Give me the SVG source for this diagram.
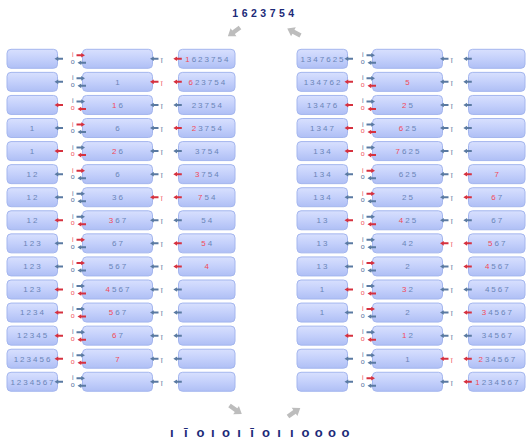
<svg xmlns="http://www.w3.org/2000/svg" xmlns:xlink="http://www.w3.org/1999/xlink" width="529" height="447" viewBox="0 0 529 447">
  <defs>
    <linearGradient id="boxFill" x1="0" y1="0" x2="0" y2="1">
      <stop offset="0" stop-color="#d8e0fe"/>
      <stop offset="0.5" stop-color="#c4d0fb"/>
      <stop offset="1" stop-color="#afbff5"/>
    </linearGradient>
    <!-- three box sizes: output, deque, input -->
    <rect id="bA" x="7" y="-9.5" width="50.5" height="19" rx="4"/>
    <rect id="bB" x="82.5" y="-9.5" width="70" height="19" rx="4"/>
    <rect id="bC" x="178.5" y="-9.5" width="56.5" height="19" rx="4"/>
    <!-- small arrows, tip at origin -->
    <path id="al" d="M0,0 L3.8,-2.3 L3.8,-1 L8.5,-1 L8.5,1 L3.8,1 L3.8,2.3 Z"/>
    <path id="ar" d="M0,0 L-3.8,-2.3 L-3.8,-1 L-8.5,-1 L-8.5,1 L-3.8,1 L-3.8,2.3 Z"/>
    <!-- large grey arrow, tail at origin, pointing along +x -->
    <path id="big" d="M0,-2.2 L8,-2.2 L8,-5 L15,0 L8,5 L8,2.2 L0,2.2 Z"/>
  </defs>
  <style>
    .bx { fill: url(#boxFill); stroke: #a4b6ee; stroke-width: 1; }
    .t { font-family: "Liberation Sans", Arial, sans-serif; font-size: 8px; letter-spacing: 2px; fill: #6a85b8; text-anchor: middle; }
    .r { fill: #f24a58; }
    .lb { font-family: "Liberation Sans", Arial, sans-serif; font-size: 7px; fill: #4f6d9c; text-anchor: middle; }
    .lr { font-family: "Liberation Sans", Arial, sans-serif; font-size: 7px; fill: #f0505a; text-anchor: middle; }
    .ab { fill: #5a7aa2; }
    .arr { fill: #d6313f; }
    .grey { fill: #bdbdbd; }
    .head { font-family: "Liberation Sans", Arial, sans-serif; font-weight: bold; fill: #1c2a78; }
  </style>

  <rect width="529" height="447" fill="#ffffff"/>

  <text id="title" class="head" x="265" y="17.3" font-size="10.5" letter-spacing="3.5" text-anchor="middle">1623754</text>
  <text id="ops" class="head" font-size="13" y="436.7" text-anchor="middle" x="171.7 185.7 200.5 212.7 226 239 252 266 279 291.7 305.5 318.8 332 345.5">ıīoıoıīoııoooo</text>

  <!-- boxes: left column (translate 0) and right column (translate 290) -->
  <g id="nodes">
    <g transform="translate(0,58.8)">
      <g id="L1a"><use href="#bA" class="bx"/></g>
      <g id="L1b"><use href="#bB" class="bx"/></g>
      <g id="L1c"><use href="#bC" class="bx"/><text class="t" x="207.8" y="2.8"><tspan class="r">1</tspan>623754</text></g>
    </g>
    <g transform="translate(0,81.87)">
      <g id="L2a"><use href="#bA" class="bx"/></g>
      <g id="L2b"><use href="#bB" class="bx"/><text class="t" x="118.5" y="2.8">1</text></g>
      <g id="L2c"><use href="#bC" class="bx"/><text class="t" x="207.8" y="2.8"><tspan class="r">6</tspan>23754</text></g>
    </g>
    <g transform="translate(0,104.94)">
      <g id="L3a"><use href="#bA" class="bx"/></g>
      <g id="L3b"><use href="#bB" class="bx"/><text class="t" x="118.5" y="2.8"><tspan class="r">1</tspan>6</text></g>
      <g id="L3c"><use href="#bC" class="bx"/><text class="t" x="207.8" y="2.8">23754</text></g>
    </g>
    <g transform="translate(0,128.01)">
      <g id="L4a"><use href="#bA" class="bx"/><text class="t" x="33" y="2.8">1</text></g>
      <g id="L4b"><use href="#bB" class="bx"/><text class="t" x="118.5" y="2.8">6</text></g>
      <g id="L4c"><use href="#bC" class="bx"/><text class="t" x="207.8" y="2.8"><tspan class="r">2</tspan>3754</text></g>
    </g>
    <g transform="translate(0,151.08)">
      <g id="L5a"><use href="#bA" class="bx"/><text class="t" x="33" y="2.8">1</text></g>
      <g id="L5b"><use href="#bB" class="bx"/><text class="t" x="118.5" y="2.8"><tspan class="r">2</tspan>6</text></g>
      <g id="L5c"><use href="#bC" class="bx"/><text class="t" x="207.8" y="2.8">3754</text></g>
    </g>
    <g transform="translate(0,174.15)">
      <g id="L6a"><use href="#bA" class="bx"/><text class="t" x="33" y="2.8">12</text></g>
      <g id="L6b"><use href="#bB" class="bx"/><text class="t" x="118.5" y="2.8">6</text></g>
      <g id="L6c"><use href="#bC" class="bx"/><text class="t" x="207.8" y="2.8"><tspan class="r">3</tspan>754</text></g>
    </g>
    <g transform="translate(0,197.22)">
      <g id="L7a"><use href="#bA" class="bx"/><text class="t" x="33" y="2.8">12</text></g>
      <g id="L7b"><use href="#bB" class="bx"/><text class="t" x="118.5" y="2.8">36</text></g>
      <g id="L7c"><use href="#bC" class="bx"/><text class="t" x="207.8" y="2.8"><tspan class="r">7</tspan>54</text></g>
    </g>
    <g transform="translate(0,220.29)">
      <g id="L8a"><use href="#bA" class="bx"/><text class="t" x="33" y="2.8">12</text></g>
      <g id="L8b"><use href="#bB" class="bx"/><text class="t" x="118.5" y="2.8"><tspan class="r">3</tspan>67</text></g>
      <g id="L8c"><use href="#bC" class="bx"/><text class="t" x="207.8" y="2.8">54</text></g>
    </g>
    <g transform="translate(0,243.36)">
      <g id="L9a"><use href="#bA" class="bx"/><text class="t" x="33" y="2.8">123</text></g>
      <g id="L9b"><use href="#bB" class="bx"/><text class="t" x="118.5" y="2.8">67</text></g>
      <g id="L9c"><use href="#bC" class="bx"/><text class="t" x="207.8" y="2.8"><tspan class="r">5</tspan>4</text></g>
    </g>
    <g transform="translate(0,266.43)">
      <g id="L10a"><use href="#bA" class="bx"/><text class="t" x="33" y="2.8">123</text></g>
      <g id="L10b"><use href="#bB" class="bx"/><text class="t" x="118.5" y="2.8">567</text></g>
      <g id="L10c"><use href="#bC" class="bx"/><text class="t" x="207.8" y="2.8"><tspan class="r">4</tspan></text></g>
    </g>
    <g transform="translate(0,289.5)">
      <g id="L11a"><use href="#bA" class="bx"/><text class="t" x="33" y="2.8">123</text></g>
      <g id="L11b"><use href="#bB" class="bx"/><text class="t" x="118.5" y="2.8"><tspan class="r">4</tspan>567</text></g>
      <g id="L11c"><use href="#bC" class="bx"/></g>
    </g>
    <g transform="translate(0,312.57)">
      <g id="L12a"><use href="#bA" class="bx"/><text class="t" x="33" y="2.8">1234</text></g>
      <g id="L12b"><use href="#bB" class="bx"/><text class="t" x="118.5" y="2.8"><tspan class="r">5</tspan>67</text></g>
      <g id="L12c"><use href="#bC" class="bx"/></g>
    </g>
    <g transform="translate(0,335.64)">
      <g id="L13a"><use href="#bA" class="bx"/><text class="t" x="33" y="2.8">12345</text></g>
      <g id="L13b"><use href="#bB" class="bx"/><text class="t" x="118.5" y="2.8"><tspan class="r">6</tspan>7</text></g>
      <g id="L13c"><use href="#bC" class="bx"/></g>
    </g>
    <g transform="translate(0,358.71)">
      <g id="L14a"><use href="#bA" class="bx"/><text class="t" x="33" y="2.8">123456</text></g>
      <g id="L14b"><use href="#bB" class="bx"/><text class="t" x="118.5" y="2.8"><tspan class="r">7</tspan></text></g>
      <g id="L14c"><use href="#bC" class="bx"/></g>
    </g>
    <g transform="translate(0,381.78)">
      <g id="L15a"><use href="#bA" class="bx"/><text class="t" x="33" y="2.8">1234567</text></g>
      <g id="L15b"><use href="#bB" class="bx"/></g>
      <g id="L15c"><use href="#bC" class="bx"/></g>
    </g>

    <g transform="translate(290,58.8)">
      <g id="R1a"><use href="#bA" class="bx"/><text class="t" x="33" y="2.8">1347625</text></g>
      <g id="R1b"><use href="#bB" class="bx"/></g>
      <g id="R1c"><use href="#bC" class="bx"/></g>
    </g>
    <g transform="translate(290,81.87)">
      <g id="R2a"><use href="#bA" class="bx"/><text class="t" x="33" y="2.8">134762</text></g>
      <g id="R2b"><use href="#bB" class="bx"/><text class="t" x="118.5" y="2.8"><tspan class="r">5</tspan></text></g>
      <g id="R2c"><use href="#bC" class="bx"/></g>
    </g>
    <g transform="translate(290,104.94)">
      <g id="R3a"><use href="#bA" class="bx"/><text class="t" x="33" y="2.8">13476</text></g>
      <g id="R3b"><use href="#bB" class="bx"/><text class="t" x="118.5" y="2.8"><tspan class="r">2</tspan>5</text></g>
      <g id="R3c"><use href="#bC" class="bx"/></g>
    </g>
    <g transform="translate(290,128.01)">
      <g id="R4a"><use href="#bA" class="bx"/><text class="t" x="33" y="2.8">1347</text></g>
      <g id="R4b"><use href="#bB" class="bx"/><text class="t" x="118.5" y="2.8"><tspan class="r">6</tspan>25</text></g>
      <g id="R4c"><use href="#bC" class="bx"/></g>
    </g>
    <g transform="translate(290,151.08)">
      <g id="R5a"><use href="#bA" class="bx"/><text class="t" x="33" y="2.8">134</text></g>
      <g id="R5b"><use href="#bB" class="bx"/><text class="t" x="118.5" y="2.8"><tspan class="r">7</tspan>625</text></g>
      <g id="R5c"><use href="#bC" class="bx"/></g>
    </g>
    <g transform="translate(290,174.15)">
      <g id="R6a"><use href="#bA" class="bx"/><text class="t" x="33" y="2.8">134</text></g>
      <g id="R6b"><use href="#bB" class="bx"/><text class="t" x="118.5" y="2.8">625</text></g>
      <g id="R6c"><use href="#bC" class="bx"/><text class="t" x="207.8" y="2.8"><tspan class="r">7</tspan></text></g>
    </g>
    <g transform="translate(290,197.22)">
      <g id="R7a"><use href="#bA" class="bx"/><text class="t" x="33" y="2.8">134</text></g>
      <g id="R7b"><use href="#bB" class="bx"/><text class="t" x="118.5" y="2.8">25</text></g>
      <g id="R7c"><use href="#bC" class="bx"/><text class="t" x="207.8" y="2.8"><tspan class="r">6</tspan>7</text></g>
    </g>
    <g transform="translate(290,220.29)">
      <g id="R8a"><use href="#bA" class="bx"/><text class="t" x="33" y="2.8">13</text></g>
      <g id="R8b"><use href="#bB" class="bx"/><text class="t" x="118.5" y="2.8"><tspan class="r">4</tspan>25</text></g>
      <g id="R8c"><use href="#bC" class="bx"/><text class="t" x="207.8" y="2.8">67</text></g>
    </g>
    <g transform="translate(290,243.36)">
      <g id="R9a"><use href="#bA" class="bx"/><text class="t" x="33" y="2.8">13</text></g>
      <g id="R9b"><use href="#bB" class="bx"/><text class="t" x="118.5" y="2.8">42</text></g>
      <g id="R9c"><use href="#bC" class="bx"/><text class="t" x="207.8" y="2.8"><tspan class="r">5</tspan>67</text></g>
    </g>
    <g transform="translate(290,266.43)">
      <g id="R10a"><use href="#bA" class="bx"/><text class="t" x="33" y="2.8">13</text></g>
      <g id="R10b"><use href="#bB" class="bx"/><text class="t" x="118.5" y="2.8">2</text></g>
      <g id="R10c"><use href="#bC" class="bx"/><text class="t" x="207.8" y="2.8"><tspan class="r">4</tspan>567</text></g>
    </g>
    <g transform="translate(290,289.5)">
      <g id="R11a"><use href="#bA" class="bx"/><text class="t" x="33" y="2.8">1</text></g>
      <g id="R11b"><use href="#bB" class="bx"/><text class="t" x="118.5" y="2.8"><tspan class="r">3</tspan>2</text></g>
      <g id="R11c"><use href="#bC" class="bx"/><text class="t" x="207.8" y="2.8">4567</text></g>
    </g>
    <g transform="translate(290,312.57)">
      <g id="R12a"><use href="#bA" class="bx"/><text class="t" x="33" y="2.8">1</text></g>
      <g id="R12b"><use href="#bB" class="bx"/><text class="t" x="118.5" y="2.8">2</text></g>
      <g id="R12c"><use href="#bC" class="bx"/><text class="t" x="207.8" y="2.8"><tspan class="r">3</tspan>4567</text></g>
    </g>
    <g transform="translate(290,335.64)">
      <g id="R13a"><use href="#bA" class="bx"/></g>
      <g id="R13b"><use href="#bB" class="bx"/><text class="t" x="118.5" y="2.8"><tspan class="r">1</tspan>2</text></g>
      <g id="R13c"><use href="#bC" class="bx"/><text class="t" x="207.8" y="2.8">34567</text></g>
    </g>
    <g transform="translate(290,358.71)">
      <g id="R14a"><use href="#bA" class="bx"/></g>
      <g id="R14b"><use href="#bB" class="bx"/><text class="t" x="118.5" y="2.8">1</text></g>
      <g id="R14c"><use href="#bC" class="bx"/><text class="t" x="207.8" y="2.8"><tspan class="r">2</tspan>34567</text></g>
    </g>
    <g transform="translate(290,381.78)">
      <g id="R15a"><use href="#bA" class="bx"/></g>
      <g id="R15b"><use href="#bB" class="bx"/></g>
      <g id="R15c"><use href="#bC" class="bx"/><text class="t" x="207.8" y="2.8"><tspan class="r">1</tspan>234567</text></g>
    </g>
  </g>

  <!-- arrows and i / o / ī port labels; red marks the step taken next -->
  <g id="connectors">
    <g id="flow">
      <use href="#big" class="grey" transform="translate(240,27.5) rotate(144)"/>
      <use href="#big" class="grey" transform="translate(300.5,35.5) rotate(-152)"/>
      <use href="#big" class="grey" transform="translate(229.5,405.5) rotate(35)"/>
      <use href="#big" class="grey" transform="translate(288,416.5) rotate(-35)"/>
    </g>

    <!-- left column -->
    <g transform="translate(0,58.8)"><use href="#al" class="ab" x="54.5"/><text class="lr" x="72.7" y="-1.5">i</text><use href="#ar" class="arr" x="85" y="-3.5"/><text class="lb" x="72.7" y="5.2">o</text><use href="#al" class="ab" x="77.5" y="4"/><use href="#al" class="ab" x="150"/><text class="lb" x="161.7" y="3.9">ī</text><use href="#al" class="arr" x="173.3"/></g>
    <g transform="translate(0,81.87)"><use href="#al" class="ab" x="54.5"/><text class="lb" x="72.7" y="-1.5">i</text><use href="#ar" class="ab" x="85" y="-3.5"/><text class="lb" x="72.7" y="5.2">o</text><use href="#al" class="ab" x="77.5" y="4"/><use href="#al" class="arr" x="150"/><text class="lr" x="161.7" y="3.9">ī</text><use href="#al" class="arr" x="173.3"/></g>
    <g transform="translate(0,104.94)"><use href="#al" class="arr" x="54.5"/><text class="lb" x="72.7" y="-1.5">i</text><use href="#ar" class="ab" x="85" y="-3.5"/><text class="lr" x="72.7" y="5.2">o</text><use href="#al" class="arr" x="77.5" y="4"/><use href="#al" class="ab" x="150"/><text class="lb" x="161.7" y="3.9">ī</text><use href="#al" class="ab" x="173.3"/></g>
    <g transform="translate(0,128.01)"><use href="#al" class="ab" x="54.5"/><text class="lr" x="72.7" y="-1.5">i</text><use href="#ar" class="arr" x="85" y="-3.5"/><text class="lb" x="72.7" y="5.2">o</text><use href="#al" class="ab" x="77.5" y="4"/><use href="#al" class="ab" x="150"/><text class="lb" x="161.7" y="3.9">ī</text><use href="#al" class="arr" x="173.3"/></g>
    <g transform="translate(0,151.08)"><use href="#al" class="arr" x="54.5"/><text class="lb" x="72.7" y="-1.5">i</text><use href="#ar" class="ab" x="85" y="-3.5"/><text class="lr" x="72.7" y="5.2">o</text><use href="#al" class="arr" x="77.5" y="4"/><use href="#al" class="ab" x="150"/><text class="lb" x="161.7" y="3.9">ī</text><use href="#al" class="ab" x="173.3"/></g>
    <g transform="translate(0,174.15)"><use href="#al" class="ab" x="54.5"/><text class="lr" x="72.7" y="-1.5">i</text><use href="#ar" class="arr" x="85" y="-3.5"/><text class="lb" x="72.7" y="5.2">o</text><use href="#al" class="ab" x="77.5" y="4"/><use href="#al" class="ab" x="150"/><text class="lb" x="161.7" y="3.9">ī</text><use href="#al" class="arr" x="173.3"/></g>
    <g transform="translate(0,197.22)"><use href="#al" class="ab" x="54.5"/><text class="lb" x="72.7" y="-1.5">i</text><use href="#ar" class="ab" x="85" y="-3.5"/><text class="lb" x="72.7" y="5.2">o</text><use href="#al" class="ab" x="77.5" y="4"/><use href="#al" class="arr" x="150"/><text class="lr" x="161.7" y="3.9">ī</text><use href="#al" class="arr" x="173.3"/></g>
    <g transform="translate(0,220.29)"><use href="#al" class="arr" x="54.5"/><text class="lb" x="72.7" y="-1.5">i</text><use href="#ar" class="ab" x="85" y="-3.5"/><text class="lr" x="72.7" y="5.2">o</text><use href="#al" class="arr" x="77.5" y="4"/><use href="#al" class="ab" x="150"/><text class="lb" x="161.7" y="3.9">ī</text><use href="#al" class="ab" x="173.3"/></g>
    <g transform="translate(0,243.36)"><use href="#al" class="ab" x="54.5"/><text class="lr" x="72.7" y="-1.5">i</text><use href="#ar" class="arr" x="85" y="-3.5"/><text class="lb" x="72.7" y="5.2">o</text><use href="#al" class="ab" x="77.5" y="4"/><use href="#al" class="ab" x="150"/><text class="lb" x="161.7" y="3.9">ī</text><use href="#al" class="arr" x="173.3"/></g>
    <g transform="translate(0,266.43)"><use href="#al" class="ab" x="54.5"/><text class="lr" x="72.7" y="-1.5">i</text><use href="#ar" class="arr" x="85" y="-3.5"/><text class="lb" x="72.7" y="5.2">o</text><use href="#al" class="ab" x="77.5" y="4"/><use href="#al" class="ab" x="150"/><text class="lb" x="161.7" y="3.9">ī</text><use href="#al" class="arr" x="173.3"/></g>
    <g transform="translate(0,289.5)"><use href="#al" class="arr" x="54.5"/><text class="lb" x="72.7" y="-1.5">i</text><use href="#ar" class="ab" x="85" y="-3.5"/><text class="lr" x="72.7" y="5.2">o</text><use href="#al" class="arr" x="77.5" y="4"/><use href="#al" class="ab" x="150"/><text class="lb" x="161.7" y="3.9">ī</text><use href="#al" class="ab" x="173.3"/></g>
    <g transform="translate(0,312.57)"><use href="#al" class="arr" x="54.5"/><text class="lb" x="72.7" y="-1.5">i</text><use href="#ar" class="ab" x="85" y="-3.5"/><text class="lr" x="72.7" y="5.2">o</text><use href="#al" class="arr" x="77.5" y="4"/><use href="#al" class="ab" x="150"/><text class="lb" x="161.7" y="3.9">ī</text><use href="#al" class="ab" x="173.3"/></g>
    <g transform="translate(0,335.64)"><use href="#al" class="arr" x="54.5"/><text class="lb" x="72.7" y="-1.5">i</text><use href="#ar" class="ab" x="85" y="-3.5"/><text class="lr" x="72.7" y="5.2">o</text><use href="#al" class="arr" x="77.5" y="4"/><use href="#al" class="ab" x="150"/><text class="lb" x="161.7" y="3.9">ī</text><use href="#al" class="ab" x="173.3"/></g>
    <g transform="translate(0,358.71)"><use href="#al" class="arr" x="54.5"/><text class="lb" x="72.7" y="-1.5">i</text><use href="#ar" class="ab" x="85" y="-3.5"/><text class="lr" x="72.7" y="5.2">o</text><use href="#al" class="arr" x="77.5" y="4"/><use href="#al" class="ab" x="150"/><text class="lb" x="161.7" y="3.9">ī</text><use href="#al" class="ab" x="173.3"/></g>
    <g transform="translate(0,381.78)"><use href="#al" class="ab" x="54.5"/><text class="lb" x="72.7" y="-1.5">i</text><use href="#ar" class="ab" x="85" y="-3.5"/><text class="lb" x="72.7" y="5.2">o</text><use href="#al" class="ab" x="77.5" y="4"/><use href="#al" class="ab" x="150"/><text class="lb" x="161.7" y="3.9">ī</text><use href="#al" class="ab" x="173.3"/></g>

    <!-- right column -->
    <g transform="translate(290,58.8)"><use href="#al" class="ab" x="54.5"/><text class="lb" x="72.7" y="-1.5">i</text><use href="#ar" class="ab" x="85" y="-3.5"/><text class="lb" x="72.7" y="5.2">o</text><use href="#al" class="ab" x="77.5" y="4"/><use href="#al" class="ab" x="150"/><text class="lb" x="161.7" y="3.9">ī</text><use href="#al" class="ab" x="173.3"/></g>
    <g transform="translate(290,81.87)"><use href="#al" class="arr" x="54.5"/><text class="lb" x="72.7" y="-1.5">i</text><use href="#ar" class="ab" x="85" y="-3.5"/><text class="lr" x="72.7" y="5.2">o</text><use href="#al" class="arr" x="77.5" y="4"/><use href="#al" class="ab" x="150"/><text class="lb" x="161.7" y="3.9">ī</text><use href="#al" class="ab" x="173.3"/></g>
    <g transform="translate(290,104.94)"><use href="#al" class="arr" x="54.5"/><text class="lb" x="72.7" y="-1.5">i</text><use href="#ar" class="ab" x="85" y="-3.5"/><text class="lr" x="72.7" y="5.2">o</text><use href="#al" class="arr" x="77.5" y="4"/><use href="#al" class="ab" x="150"/><text class="lb" x="161.7" y="3.9">ī</text><use href="#al" class="ab" x="173.3"/></g>
    <g transform="translate(290,128.01)"><use href="#al" class="arr" x="54.5"/><text class="lb" x="72.7" y="-1.5">i</text><use href="#ar" class="ab" x="85" y="-3.5"/><text class="lr" x="72.7" y="5.2">o</text><use href="#al" class="arr" x="77.5" y="4"/><use href="#al" class="ab" x="150"/><text class="lb" x="161.7" y="3.9">ī</text><use href="#al" class="ab" x="173.3"/></g>
    <g transform="translate(290,151.08)"><use href="#al" class="arr" x="54.5"/><text class="lb" x="72.7" y="-1.5">i</text><use href="#ar" class="ab" x="85" y="-3.5"/><text class="lr" x="72.7" y="5.2">o</text><use href="#al" class="arr" x="77.5" y="4"/><use href="#al" class="ab" x="150"/><text class="lb" x="161.7" y="3.9">ī</text><use href="#al" class="ab" x="173.3"/></g>
    <g transform="translate(290,174.15)"><use href="#al" class="ab" x="54.5"/><text class="lr" x="72.7" y="-1.5">i</text><use href="#ar" class="arr" x="85" y="-3.5"/><text class="lb" x="72.7" y="5.2">o</text><use href="#al" class="ab" x="77.5" y="4"/><use href="#al" class="ab" x="150"/><text class="lb" x="161.7" y="3.9">ī</text><use href="#al" class="arr" x="173.3"/></g>
    <g transform="translate(290,197.22)"><use href="#al" class="ab" x="54.5"/><text class="lr" x="72.7" y="-1.5">i</text><use href="#ar" class="arr" x="85" y="-3.5"/><text class="lb" x="72.7" y="5.2">o</text><use href="#al" class="ab" x="77.5" y="4"/><use href="#al" class="ab" x="150"/><text class="lb" x="161.7" y="3.9">ī</text><use href="#al" class="arr" x="173.3"/></g>
    <g transform="translate(290,220.29)"><use href="#al" class="arr" x="54.5"/><text class="lb" x="72.7" y="-1.5">i</text><use href="#ar" class="ab" x="85" y="-3.5"/><text class="lr" x="72.7" y="5.2">o</text><use href="#al" class="arr" x="77.5" y="4"/><use href="#al" class="ab" x="150"/><text class="lb" x="161.7" y="3.9">ī</text><use href="#al" class="ab" x="173.3"/></g>
    <g transform="translate(290,243.36)"><use href="#al" class="ab" x="54.5"/><text class="lb" x="72.7" y="-1.5">i</text><use href="#ar" class="ab" x="85" y="-3.5"/><text class="lb" x="72.7" y="5.2">o</text><use href="#al" class="ab" x="77.5" y="4"/><use href="#al" class="arr" x="150"/><text class="lr" x="161.7" y="3.9">ī</text><use href="#al" class="arr" x="173.3"/></g>
    <g transform="translate(290,266.43)"><use href="#al" class="ab" x="54.5"/><text class="lr" x="72.7" y="-1.5">i</text><use href="#ar" class="arr" x="85" y="-3.5"/><text class="lb" x="72.7" y="5.2">o</text><use href="#al" class="ab" x="77.5" y="4"/><use href="#al" class="ab" x="150"/><text class="lb" x="161.7" y="3.9">ī</text><use href="#al" class="arr" x="173.3"/></g>
    <g transform="translate(290,289.5)"><use href="#al" class="arr" x="54.5"/><text class="lb" x="72.7" y="-1.5">i</text><use href="#ar" class="ab" x="85" y="-3.5"/><text class="lr" x="72.7" y="5.2">o</text><use href="#al" class="arr" x="77.5" y="4"/><use href="#al" class="ab" x="150"/><text class="lb" x="161.7" y="3.9">ī</text><use href="#al" class="ab" x="173.3"/></g>
    <g transform="translate(290,312.57)"><use href="#al" class="ab" x="54.5"/><text class="lr" x="72.7" y="-1.5">i</text><use href="#ar" class="arr" x="85" y="-3.5"/><text class="lb" x="72.7" y="5.2">o</text><use href="#al" class="ab" x="77.5" y="4"/><use href="#al" class="ab" x="150"/><text class="lb" x="161.7" y="3.9">ī</text><use href="#al" class="arr" x="173.3"/></g>
    <g transform="translate(290,335.64)"><use href="#al" class="arr" x="54.5"/><text class="lb" x="72.7" y="-1.5">i</text><use href="#ar" class="ab" x="85" y="-3.5"/><text class="lr" x="72.7" y="5.2">o</text><use href="#al" class="arr" x="77.5" y="4"/><use href="#al" class="ab" x="150"/><text class="lb" x="161.7" y="3.9">ī</text><use href="#al" class="ab" x="173.3"/></g>
    <g transform="translate(290,358.71)"><use href="#al" class="ab" x="54.5"/><text class="lb" x="72.7" y="-1.5">i</text><use href="#ar" class="ab" x="85" y="-3.5"/><text class="lb" x="72.7" y="5.2">o</text><use href="#al" class="ab" x="77.5" y="4"/><use href="#al" class="arr" x="150"/><text class="lr" x="161.7" y="3.9">ī</text><use href="#al" class="arr" x="173.3"/></g>
    <g transform="translate(290,381.78)"><use href="#al" class="ab" x="54.5"/><text class="lr" x="72.7" y="-1.5">i</text><use href="#ar" class="arr" x="85" y="-3.5"/><text class="lb" x="72.7" y="5.2">o</text><use href="#al" class="ab" x="77.5" y="4"/><use href="#al" class="ab" x="150"/><text class="lb" x="161.7" y="3.9">ī</text><use href="#al" class="arr" x="173.3"/></g>
  </g>
</svg>
